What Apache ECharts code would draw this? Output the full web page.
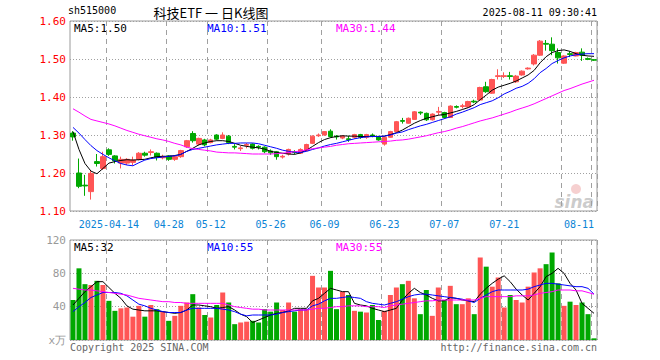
<!DOCTYPE html>
<html><head><meta charset="utf-8">
<script src="https://cdn.jsdelivr.net/npm/echarts@6/dist/echarts.min.js"></script>
<style>html,body{margin:0;padding:0;background:#fff}#c{width:660px;height:360px}</style>
</head><body><div id="c"></div>
<script>
const dates = ['2025-04-03','2025-04-07','2025-04-08','2025-04-09','2025-04-10','2025-04-11','2025-04-14','2025-04-15','2025-04-16','2025-04-17','2025-04-18','2025-04-21','2025-04-22','2025-04-23','2025-04-24','2025-04-25','2025-04-28','2025-04-29','2025-04-30',
'2025-05-06','2025-05-07','2025-05-08','2025-05-09','2025-05-12','2025-05-13','2025-05-14','2025-05-15','2025-05-16','2025-05-19','2025-05-20','2025-05-21','2025-05-22','2025-05-23','2025-05-26','2025-05-27','2025-05-28','2025-05-29','2025-05-30',
'2025-06-03','2025-06-04','2025-06-05','2025-06-06','2025-06-09','2025-06-10','2025-06-11','2025-06-12','2025-06-13','2025-06-16','2025-06-17','2025-06-18','2025-06-19','2025-06-20','2025-06-23','2025-06-24','2025-06-25','2025-06-26','2025-06-27','2025-06-30',
'2025-07-01','2025-07-02','2025-07-03','2025-07-04','2025-07-07','2025-07-08','2025-07-09','2025-07-10','2025-07-11','2025-07-14','2025-07-15','2025-07-16','2025-07-17','2025-07-18','2025-07-21','2025-07-22','2025-07-23','2025-07-24','2025-07-25','2025-07-28','2025-07-29','2025-07-30','2025-07-31',
'2025-08-01','2025-08-04','2025-08-05','2025-08-06','2025-08-07','2025-08-08','2025-08-11'];

const opens = [1.305,1.200,1.168,1.151,1.230,1.212,1.261,1.245,1.226,1.226,
 1.228,1.236,1.252,1.254,1.252,1.240,1.245,1.236,1.243,1.269,
 1.304,1.276,1.287,1.280,1.300,1.291,1.297,1.270,1.264,1.273,
 1.276,1.270,1.268,1.258,1.256,1.242,1.250,1.256,1.252,1.259,
 1.278,1.298,1.300,1.310,1.297,1.292,1.290,1.294,1.301,1.294,
 1.300,1.296,1.276,1.294,1.309,1.338,1.331,1.341,1.360,1.357,
 1.340,1.360,1.359,1.346,1.375,1.375,1.374,1.389,1.392,1.427,
 1.410,1.454,1.454,1.456,1.440,1.458,1.474,1.487,1.510,1.541,
 1.539,1.517,1.489,1.514,1.508,1.518,1.501,1.498];
const closes = [1.295,1.165,1.166,1.199,1.225,1.243,1.249,1.232,1.236,1.236,
 1.234,1.252,1.247,1.256,1.241,1.243,1.236,1.243,1.259,1.285,
 1.285,1.291,1.274,1.287,1.289,1.300,1.280,1.268,1.266,1.275,
 1.265,1.268,1.256,1.253,1.243,1.244,1.262,1.254,1.262,1.275,
 1.297,1.300,1.309,1.296,1.295,1.297,1.288,1.301,1.294,1.301,
 1.298,1.287,1.294,1.309,1.335,1.336,1.344,1.361,1.358,1.340,
 1.355,1.362,1.346,1.376,1.373,1.377,1.388,1.387,1.425,1.414,
 1.446,1.456,1.456,1.454,1.455,1.468,1.476,1.510,1.547,1.539,
 1.522,1.503,1.508,1.512,1.517,1.510,1.499,1.497];
const lows = [1.285,1.160,1.140,1.130,1.217,1.208,1.245,1.225,1.212,1.221,
 1.220,1.233,1.243,1.246,1.233,1.236,1.232,1.232,1.240,1.266,
 1.280,1.272,1.270,1.278,1.286,1.289,1.276,1.262,1.258,1.265,
 1.262,1.262,1.252,1.248,1.235,1.238,1.246,1.249,1.250,1.257,
 1.276,1.295,1.298,1.293,1.288,1.289,1.282,1.290,1.290,1.290,
 1.294,1.285,1.272,1.293,1.307,1.330,1.330,1.340,1.353,1.337,
 1.338,1.352,1.343,1.345,1.370,1.370,1.372,1.384,1.390,1.411,
 1.408,1.446,1.450,1.446,1.437,1.456,1.472,1.483,1.508,1.522,
 1.510,1.488,1.487,1.505,1.507,1.495,1.497,1.495];
const highs = [1.310,1.238,1.195,1.208,1.250,1.256,1.265,1.247,1.243,1.239,
 1.243,1.255,1.256,1.262,1.254,1.248,1.247,1.246,1.261,1.287,
 1.310,1.293,1.290,1.290,1.302,1.307,1.300,1.276,1.271,1.279,
 1.278,1.273,1.270,1.262,1.258,1.248,1.264,1.260,1.265,1.277,
 1.299,1.304,1.310,1.315,1.300,1.300,1.298,1.303,1.303,1.303,
 1.304,1.298,1.296,1.311,1.337,1.345,1.346,1.363,1.362,1.359,
 1.357,1.374,1.361,1.378,1.378,1.382,1.390,1.393,1.427,1.440,
 1.448,1.473,1.465,1.466,1.458,1.470,1.478,1.513,1.550,1.550,
 1.557,1.528,1.510,1.520,1.519,1.528,1.504,1.500];
const vols = [48,86,67,66,71,66,47,35,38,39,
 28,41,28,42,37,34,23,29,41,45,
 55,39,30,27,42,57,45,19,21,22,
 23,21,37,34,45,36,45,34,37,37,
 77,63,63,83,37,58,54,35,34,33,
 42,24,35,54,63,67,71,50,31,60,
 29,63,48,65,43,43,50,31,99,88,
 64,75,39,54,48,45,64,81,86,91,
 105,68,41,46,42,45,31,2];

const ma5 = [1.309,1.262,1.225,1.205,1.198,1.212,1.226,1.230,1.233,1.235,
 1.234,1.235,1.236,1.240,1.243,1.244,1.244,1.246,1.249,1.257,
 1.265,1.274,1.279,1.283,1.285,1.285,1.283,1.278,1.273,1.270,
 1.268,1.266,1.263,1.257,1.254,1.252,1.250,1.249,1.253,1.260,
 1.270,1.280,1.288,1.293,1.296,1.298,1.297,1.297,1.296,1.296,
 1.297,1.296,1.297,1.301,1.306,1.313,1.322,1.331,1.338,1.344,
 1.348,1.352,1.354,1.358,1.362,1.367,1.372,1.380,1.393,1.405,
 1.418,1.426,1.431,1.436,1.442,1.450,1.458,1.470,1.490,1.506,
 1.517,1.522,1.524,1.520,1.514,1.510,1.508,1.507];
const ma10 = [1.320,1.305,1.288,1.272,1.259,1.249,1.240,1.232,1.225,1.221,
 1.219,1.227,1.234,1.238,1.240,1.242,1.244,1.245,1.249,1.257,
 1.262,1.265,1.268,1.271,1.274,1.276,1.278,1.278,1.279,1.279,
 1.279,1.277,1.273,1.269,1.265,1.260,1.257,1.255,1.254,1.257,
 1.262,1.266,1.271,1.275,1.278,1.282,1.286,1.290,1.293,1.295,
 1.296,1.296,1.297,1.300,1.305,1.308,1.314,1.319,1.324,1.328,
 1.333,1.338,1.343,1.348,1.355,1.360,1.366,1.372,1.380,1.385,
 1.390,1.398,1.408,1.415,1.423,1.428,1.436,1.448,1.464,1.475,
 1.488,1.496,1.503,1.508,1.511,1.513,1.514,1.514];
const ma30 = [1.369,1.360,1.350,1.341,1.337,1.333,1.329,1.324,1.318,1.312,
 1.307,1.302,1.298,1.294,1.290,1.287,1.283,1.278,1.274,1.268,
 1.264,1.262,1.260,1.258,1.255,1.254,1.253,1.253,1.252,1.251,
 1.250,1.250,1.250,1.250,1.251,1.252,1.254,1.256,1.258,1.261,
 1.264,1.266,1.268,1.270,1.273,1.275,1.277,1.278,1.279,1.280,
 1.281,1.282,1.283,1.284,1.286,1.287,1.289,1.292,1.295,1.298,
 1.302,1.306,1.309,1.313,1.318,1.322,1.327,1.332,1.337,1.341,
 1.345,1.350,1.355,1.360,1.366,1.371,1.376,1.382,1.389,1.396,
 1.403,1.410,1.417,1.422,1.428,1.434,1.439,1.444];
const vma5 = [42,50,58,64,70,70,63,56,50,41,37,36,35,35,35,34,33,32,33,36,
 42,42,41,40,38,39,40,36,31,28,21,24,27,30,32,33,35,38,38,38,
 47,50,56,62,60,58,58,44,42,41,38,36,34,36,38,48,56,62,57,54,
 50,47,47,51,50,48,47,46,55,62,68,73,77,70,61,54,48,56,64,76,
 80,86,80,68,60,44,38,32];
const vma10 = [34,40,45,51,54,57,57,57,56,53,48,43,41,38,36,34,33,33,33,36,
 38,38,38,38,38,37,36,34,31,29,30,30,30,30,31,33,34,35,36,36,
 41,43,47,50,50,51,52,51,50,46,44,43,42,44,46,49,52,54,55,55,
 54,53,52,51,50,49,47,45,50,54,58,60,60,60,60,60,61,64,66,68,
 68,67,66,65,64,64,62,55];
const vma30 = [62,61,60,60,59,58,57,56,55,54,52,50,49,48,47,46,46,45,45,44,
 44,44,44,44,44,44,42,40,39,38,37,37,36,36,36,36,36,36,36,36,
 37,38,38,39,40,40,41,41,41,40,40,40,39,41,42,43,44,45,46,47,
 47,48,48,48,48,48,48,48,50,52,52,52,52,52,53,53,53,54,56,57,
 58,60,60,60,59,59,57,55];

const labelIdx = [6,16,23,33,42,52,62,72,87];
const gridIdx = [6,16,23,33,42,52,62,72,82,87];
const RED = '#ff5555', GREEN = '#00a800';
const MONO = '"DejaVu Sans Mono", "Liberation Mono", monospace';

const candleData = opens.map((o, i) => [o, closes[i], lows[i], highs[i]]);
const volData = vols.map((v, i) => ({ value: v, itemStyle: { color: closes[i] >= opens[i] ? RED : GREEN } }));

const chart = echarts.init(document.getElementById('c'), null, { renderer: 'svg' });
const vSplit = { show: true, interval: function (idx) { return gridIdx.indexOf(idx) >= 0; }, lineStyle: { color: '#a0a0a0', type: [5, 4], width: 1 } };
const hSplit = { show: true, lineStyle: { color: '#a0a0a0', type: [1, 2], width: 1 } };
const line = (name, data, color, xi, yi) => ({ name, type: 'line', data, xAxisIndex: xi, yAxisIndex: yi, symbol: 'none', smooth: false, lineStyle: { color, width: 1 }, z: 5, silent: true, animation: false });

chart.setOption({
  animation: false,
  backgroundColor: '#fff',
  grid: [
    { left: 70, top: 21, width: 527, height: 190, show: true, borderColor: '#9a9a9a', borderWidth: 1, backgroundColor: 'rgba(0,0,0,0)' },
    { left: 70, top: 240, width: 527, height: 100, show: true, borderColor: '#9a9a9a', borderWidth: 1, backgroundColor: 'rgba(0,0,0,0)' }
  ],
  xAxis: [
    { type: 'category', gridIndex: 0, data: dates, boundaryGap: true,
      axisLine: { show: false }, axisTick: { show: false }, splitLine: vSplit,
      axisLabel: { interval: function (idx) { return labelIdx.indexOf(idx) >= 0; }, color: '#0a84d6', fontFamily: MONO, fontSize: 10, margin: 8,
        formatter: (v, i) => i === 6 ? v : v.slice(5), alignMaxLabel: 'right', showMaxLabel: true } },
    { type: 'category', gridIndex: 1, data: dates, boundaryGap: true,
      axisLine: { show: false }, axisTick: { show: false }, axisLabel: { show: false }, splitLine: vSplit }
  ],
  yAxis: [
    { type: 'value', gridIndex: 0, min: 1.1, max: 1.6, interval: 0.1,
      axisLine: { show: false }, axisTick: { show: false }, splitLine: hSplit,
      axisLabel: { color: '#ff0000', fontFamily: MONO, fontSize: 11, margin: 4, formatter: (v) => v.toFixed(2) } },
    { type: 'value', gridIndex: 1, min: 0, max: 120, interval: 40,
      axisLine: { show: false }, axisTick: { show: false }, splitLine: hSplit,
      axisLabel: { color: '#999', fontFamily: MONO, fontSize: 11, margin: 4, formatter: (v) => v === 0 ? 'x万' : String(v) } }
  ],
  series: [
    { name: 'K', type: 'candlestick', xAxisIndex: 0, yAxisIndex: 0, data: candleData, barWidth: 5,
      itemStyle: { color: RED, color0: GREEN, borderColor: RED, borderColor0: GREEN, borderWidth: 1 }, z: 3, silent: true },
    line('MA5', ma5, '#000000', 0, 0),
    line('MA10', ma10, '#0000ff', 0, 0),
    line('MA30', ma30, '#ff00ff', 0, 0),
    { name: 'VOL', type: 'bar', xAxisIndex: 1, yAxisIndex: 1, data: volData, barWidth: 5, z: 3, silent: true },
    line('VMA5', vma5, '#000000', 1, 1),
    line('VMA10', vma10, '#0000ff', 1, 1),
    line('VMA30', vma30, '#ff00ff', 1, 1)
  ],
  graphic: [
    { type: 'text', left: 68, top: 5, style: { text: 'sh515000', font: '10px ' + MONO, fill: '#000' } },
    { type: 'text', x: 211, y: 12, style: { text: '科技ETF 一 日K线图', font: '13px "Noto Sans CJK SC"', fill: '#000', align: 'center', verticalAlign: 'middle' } },
    { type: 'text', x: 597, y: 12, style: { text: '2025-08-11 09:30:41', font: '10px ' + MONO, fill: '#000', align: 'right', verticalAlign: 'middle' } },
    { type: 'text', x: 74, y: 28, style: { text: 'MA5:1.50', font: '11px ' + MONO, fill: '#000', verticalAlign: 'middle' } },
    { type: 'text', x: 207, y: 28, style: { text: 'MA10:1.51', font: '11px ' + MONO, fill: '#0000ff', verticalAlign: 'middle' } },
    { type: 'text', x: 336, y: 28, style: { text: 'MA30:1.44', font: '11px ' + MONO, fill: '#ff00ff', verticalAlign: 'middle' } },
    { type: 'text', x: 74, y: 247, style: { text: 'MA5:32', font: '11px ' + MONO, fill: '#000', verticalAlign: 'middle' } },
    { type: 'text', x: 207, y: 247, style: { text: 'MA10:55', font: '11px ' + MONO, fill: '#0000ff', verticalAlign: 'middle' } },
    { type: 'text', x: 336, y: 247, style: { text: 'MA30:55', font: '11px ' + MONO, fill: '#ff00ff', verticalAlign: 'middle' } },
    { type: 'text', x: 70, y: 347, style: { text: 'Copyright 2025 SINA.COM', font: '10px ' + MONO, fill: '#666', verticalAlign: 'middle' } },
    { type: 'text', x: 597, y: 347, style: { text: 'http://finance.sina.com.cn', font: '10px ' + MONO, fill: '#666', align: 'right', verticalAlign: 'middle' } },
    { type: 'circle', shape: { cx: 576, cy: 189, r: 5 }, style: { fill: 'rgba(230,120,120,0.35)' }, z: 1 },
    { type: 'text', x: 594, y: 202, style: { text: 'sina', font: 'italic bold 17px "DejaVu Sans"', fill: 'rgba(160,160,160,0.55)', align: 'right', verticalAlign: 'middle' }, z: 1 }
  ]
});
</script></body></html>
